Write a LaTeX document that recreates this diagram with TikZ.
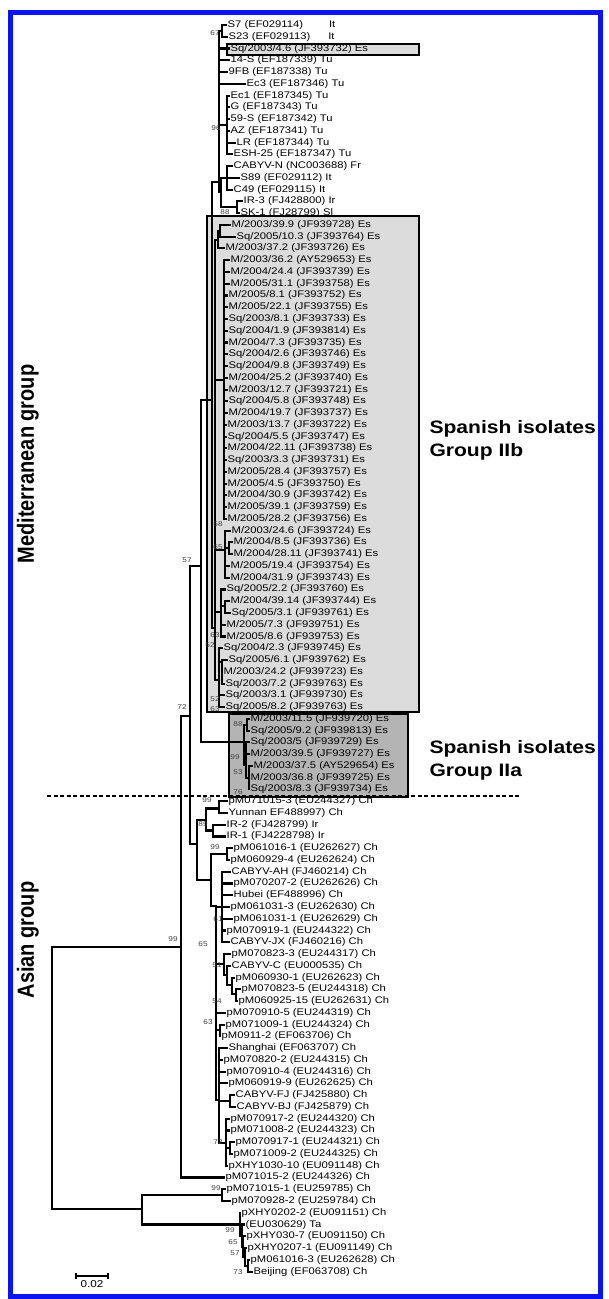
\documentclass[tikz,border=0pt]{standalone}
\usepackage{fontspec}
\usepackage{graphicx}
\setmainfont{Liberation Sans}[FakeStretch=1.17]
\newfontfamily\plainsans{Liberation Sans}
\usetikzlibrary{positioning}
\definecolor{frameBlue}{HTML}{0A14F0}
\definecolor{isoLight}{HTML}{DCDCDC}
\definecolor{isoDark}{HTML}{B4B4B4}
\tikzset{
  leaf/.style={anchor=west,inner xsep=1.5pt,inner ysep=0pt,
               font=\fontsize{9.6}{10}\selectfont},
  branch/.style={line width=2.1pt,line cap=rect},
  boot/.style={font=\fontsize{7}{8}\selectfont,inner sep=0pt,text=black!75},
  isobox/.style={draw=black,line width=1.8pt},
  grplabel/.style={font=\fontsize{18}{23}\selectfont\bfseries,align=left,
                   anchor=west},
  sidelabel/.style={font=\plainsans\fontsize{20}{22}\selectfont\bfseries,
                    rotate=90,inner sep=0pt},
  sepline/.style={line width=2pt,dash pattern=on 4pt off 2.5pt}
}

\begin{document}
\begin{tikzpicture}[x=1pt,y=-1pt]
  \useasboundingbox (0,0) rectangle (609,1299);
  \draw[frameBlue,line width=5pt] (10,12.5) rectangle (600,1296.5);

  % shaded groups
  \draw[isobox,fill=isoLight] (207,216) rectangle (419,712);
  \draw[isobox,fill=isoDark] (229,714) rectangle (408,797);
  \draw[isobox,fill=isoLight] (227,44) rectangle (419,55);

  % taxa
  \foreach \i/\tx/\lab in {
    1/226/{S7 (EF029114)\hspace{26pt}It},
    2/227/{S23 (EF029113)\hspace{18pt}It},
    3/229/{Sq/2003/4.6 (JF393732) Es},
    4/229/{14-S (EF187339) Tu},
    5/227/{9FB (EF187338) Tu},
    6/245/{Ec3 (EF187346) Tu},
    7/229/{Ec1 (EF187345) Tu},
    8/229/{G (EF187343) Tu},
    9/229/{59-S (EF187342) Tu},
    10/229/{AZ (EF187341) Tu},
    11/235/{LR (EF187344) Tu},
    12/232/{ESH-25 (EF187347) Tu},
    13/232/{CABYV-N (NC003688) Fr},
    14/239/{S89 (EF029112) It},
    15/232/{C49 (EF029115) It},
    16/242/{IR-3 (FJ428800) Ir},
    17/239/{SK-1 (FJ28799) Sl},
    18/230/{M/2003/39.9 (JF939728) Es},
    19/235/{Sq/2005/10.3 (JF393764) Es},
    20/224/{M/2003/37.2 (JF393726) Es},
    21/229/{M/2003/36.2 (AY529653) Es},
    22/229/{M/2004/24.4 (JF393739) Es},
    23/229/{M/2005/31.1 (JF393758) Es},
    24/227/{M/2005/8.1 (JF393752) Es},
    25/227/{M/2005/22.1 (JF393755) Es},
    26/227/{Sq/2003/8.1 (JF393733) Es},
    27/227/{Sq/2004/1.9 (JF393814) Es},
    28/227/{M/2004/7.3 (JF393735) Es},
    29/227/{Sq/2004/2.6 (JF393746) Es},
    30/227/{Sq/2004/9.8 (JF393749) Es},
    31/227/{M/2004/25.2 (JF393740) Es},
    32/227/{M/2003/12.7 (JF393721) Es},
    33/227/{Sq/2004/5.8 (JF393748) Es},
    34/227/{M/2004/19.7 (JF393737) Es},
    35/226/{M/2003/13.7 (JF393722) Es},
    36/226/{Sq/2004/5.5 (JF393747) Es},
    37/226/{M/2004/22.11 (JF393738) Es},
    38/226/{Sq/2003/3.3 (JF393731) Es},
    39/226/{M/2005/28.4 (JF393757) Es},
    40/226/{M/2005/4.5 (JF393750) Es},
    41/226/{M/2004/30.9 (JF393742) Es},
    42/226/{M/2005/39.1 (JF393759) Es},
    43/226/{M/2005/28.2 (JF393756) Es},
    44/230/{M/2003/24.6 (JF393724) Es},
    45/232/{M/2004/8.5 (JF393736) Es},
    46/232/{M/2004/28.11 (JF393741) Es},
    47/229/{M/2005/19.4 (JF393754) Es},
    48/229/{M/2004/31.9 (JF393743) Es},
    49/225/{Sq/2005/2.2 (JF393760) Es},
    50/229/{M/2004/39.14 (JF393744) Es},
    51/230/{Sq/2005/3.1 (JF939761) Es},
    52/225/{M/2005/7.3 (JF939751) Es},
    53/225/{M/2005/8.6 (JF939753) Es},
    54/222/{Sq/2004/2.3 (JF939745) Es},
    55/227/{Sq/2005/6.1 (JF939762) Es},
    56/222/{M/2003/24.2 (JF939723) Es},
    57/224/{Sq/2003/7.2 (JF939763) Es},
    58/224/{Sq/2003/3.1 (JF939730) Es},
    59/224/{Sq/2005/8.2 (JF939763) Es},
    60/249/{M/2003/11.5 (JF939720) Es},
    61/249/{Sq/2005/9.2 (JF939813) Es},
    62/249/{Sq/2003/5 (JF939729) Es},
    63/249/{M/2003/39.5 (JF939727) Es},
    64/252/{M/2003/37.5 (AY529654) Es},
    65/249/{M/2003/36.8 (JF939725) Es},
    66/249/{Sq/2003/8.3 (JF939734) Es},
    67/227/{pM071015-3 (EU244327) Ch},
    68/227/{Yunnan EF488997) Ch},
    69/225/{IR-2 (FJ428799) Ir},
    70/225/{IR-1 (FJ4228798) Ir},
    71/232/{pM061016-1 (EU262627) Ch},
    72/229/{pM060929-4 (EU262624) Ch},
    73/230/{CABYV-AH (FJ460214) Ch},
    74/232/{pM070207-2 (EU262626) Ch},
    75/232/{Hubei (EF488996) Ch},
    76/229/{pM061031-3 (EU262630) Ch},
    77/232/{pM061031-1 (EU262629) Ch},
    78/225/{pM070919-1 (EU244322) Ch},
    79/229/{CABYV-JX (FJ460216) Ch},
    80/230/{pM070823-3 (EU244317) Ch},
    81/230/{CABYV-C (EU000535) Ch},
    82/234/{pM060930-1 (EU262623) Ch},
    83/240/{pM070823-5 (EU244318) Ch},
    84/237/{pM060925-15 (EU262631) Ch},
    85/225/{pM070910-5 (EU244319) Ch},
    86/224/{pM071009-1 (EU244324) Ch},
    87/220/{pM0911-2 (EF063706) Ch},
    88/227/{Shanghai (EF063707) Ch},
    89/222/{pM070820-2 (EU244315) Ch},
    90/225/{pM070910-4 (EU244316) Ch},
    91/227/{pM060919-9 (EU262625) Ch},
    92/234/{CABYV-FJ (FJ425880) Ch},
    93/235/{CABYV-BJ (FJ425879) Ch},
    94/229/{pM070917-2 (EU244320) Ch},
    95/229/{pM071008-2 (EU244323) Ch},
    96/234/{pM070917-1 (EU244321) Ch},
    97/232/{pM071009-2 (EU244325) Ch},
    98/227/{pXHY1030-10 (EU091148) Ch},
    99/224/{pM071015-2 (EU244326) Ch},
    100/225/{pM071015-1 (EU259785) Ch},
    101/230/{pM070928-2 (EU259784) Ch},
    102/240/{pXHY0202-2 (EU091151) Ch},
    103/244/{(EU030629) Ta},
    104/245/{pXHY030-7 (EU091150) Ch},
    105/246/{pXHY0207-1 (EU091149) Ch},
    106/249/{pM061016-3 (EU262628) Ch},
    107/252/{Beijing (EF063708) Ch}}
    \node[leaf] (l\i) at (\tx,{13.24+11.76*\i}) {\lab};

  % internal nodes
  \coordinate (root) at (52,1078);
  \coordinate (nX) at (181,947);
  \coordinate (nD) at (142,1209);
  \coordinate (n72) at (190,716);
  \coordinate (n57) at (201,566);
  \coordinate (nAs) at (197,844);
  \coordinate (nMed) at (212,400);
  \coordinate (nIIa) at (244,742);
  \coordinate (nTop) at (219,182);
  \coordinate (nT1) at (222,31);
  \coordinate (nT2) at (219,78);
  \coordinate (nTu) at (227,125);
  \coordinate (nFr) at (227,178);
  \coordinate (nIR3) at (237,207);
  \coordinate (nT4) at (221,192);
  \coordinate (nIIb) at (215,628);
  \coordinate (nB1) at (220,231);
  \coordinate (nB2) at (218,240);
  \coordinate (nB3) at (224,380);
  \coordinate (nB4) at (225,550);
  \coordinate (nB4a) at (229,548);
  \coordinate (nB5) at (221,612);
  \coordinate (nB5a) at (225,606);
  \coordinate (nB6) at (219,680);
  \coordinate (nB6a) at (222,662);
  \coordinate (nIIa1) at (247,725);
  \coordinate (nIIa2) at (246,765);
  \coordinate (nIIa3) at (249,778);
  \coordinate (nYun) at (219,808.5);
  \coordinate (nIR) at (213,830.5);
  \coordinate (nA1) at (206,820);
  \coordinate (nA2) at (211,880);
  \coordinate (n99b) at (227,854);
  \coordinate (nA3) at (216,906);
  \coordinate (nAH) at (222,907);
  \coordinate (nC2) at (224,964);
  \coordinate (nC3) at (227,975);
  \coordinate (nC4) at (232,985);
  \coordinate (nC5) at (236,994);
  \coordinate (nD1) at (220,1030);
  \coordinate (nF) at (219,1100);
  \coordinate (nF1) at (230,1101);
  \coordinate (nF2) at (226,1143);
  \coordinate (nF3) at (230,1148);
  \coordinate (nP) at (222,1195);
  \coordinate (nQ1) at (240,1224.5);
  \coordinate (nQ2) at (242,1236);
  \coordinate (nQ3) at (243,1247);
  \coordinate (nQ4) at (245,1257);
  \coordinate (nQ5) at (248,1266);

  % branches
  \foreach \p/\c in {root/nX,root/nD,nX/n72,nX/l99.west,n72/n57,n72/nAs,
      n57/nMed,n57/nIIa,nMed/nTop,nMed/nIIb,
      nTop/nT2,nTop/nT4,nT1/l1.west,nT1/l2.west,
      nT2/nT1,nT2/l3.west,nT2/l4.west,nT2/l5.west,nT2/l6.west,nT2/nTu,
      nTu/l7.west,nTu/l8.west,nTu/l9.west,nTu/l10.west,nTu/l11.west,
      nTu/l12.west,nT4/nFr,nT4/nIR3,nFr/l13.west,nFr/l14.west,nFr/l15.west,
      nIR3/l16.west,nIR3/l17.west,
      nIIb/nB2,nIIb/nB3,nIIb/nB4,nIIb/nB5,nIIb/nB6,
      nB2/nB1,nB2/l20.west,nB1/l18.west,nB1/l19.west,
      nB4/l44.west,nB4/nB4a,nB4/l47.west,nB4/l48.west,
      nB4a/l45.west,nB4a/l46.west,
      nB5/l49.west,nB5/nB5a,nB5/l52.west,nB5/l53.west,
      nB5a/l50.west,nB5a/l51.west,
      nB6/l54.west,nB6/nB6a,nB6/l58.west,nB6/l59.west,
      nB6a/l55.west,nB6a/l56.west,nB6a/l57.west,
      nIIa/nIIa1,nIIa/nIIa2,nIIa1/l60.west,nIIa1/l61.west,
      nIIa2/l62.west,nIIa2/l63.west,nIIa2/nIIa3,
      nIIa3/l64.west,nIIa3/l65.west,nIIa3/l66.west,
      nAs/nA1,nAs/nA2,nA1/nYun,nA1/nIR,nYun/l67.west,nYun/l68.west,
      nIR/l69.west,nIR/l70.west,nA2/n99b,nA2/nA3,
      n99b/l71.west,n99b/l72.west,
      nA3/nAH,nA3/nC2,nA3/l85.west,nA3/nD1,nA3/nF,
      nC2/l80.west,nC2/nC3,nC3/l81.west,nC3/nC4,nC4/l82.west,nC4/nC5,
      nC5/l83.west,nC5/l84.west,nD1/l86.west,nD1/l87.west,
      nF/l88.west,nF/l89.west,nF/l90.west,nF/l91.west,nF/nF1,nF/nF2,
      nF1/l92.west,nF1/l93.west,nF2/l94.west,nF2/l95.west,nF2/nF3,
      nF2/l98.west,nF3/l96.west,nF3/l97.west,
      nD/nP,nD/nQ1,nP/l100.west,nP/l101.west,
      nQ1/l102.west,nQ1/nQ2,nQ2/l103.west,nQ2/nQ3,nQ3/l104.west,nQ3/nQ4,
      nQ4/l105.west,nQ4/nQ5,nQ5/l106.west,nQ5/l107.west}
    \draw[branch] (\p) |- (\c);
  \foreach \c in {21,...,43}
    \draw[branch] (nB3) |- (l\c.west);
  \foreach \c in {73,...,79}
    \draw[branch] (nAH) |- (l\c.west);

  % bootstrap values
  \foreach \bx/\by/\bv [count=\k] in {215/33/67,216/128/96,225/212/88,
      218/524/58,218/547/65,187/560/57,215/635/63,210/645/52,
      215/699/52,215/709/63,182/707/72,238/724/88,235/757/99,
      238/772/53,238/792/76,207/800/99,203/824/89,215/847/99,
      218/919/61,203/944/65,173/939/99,217/965/51,217/1001/54,
      208/1022/63,218/1142/72,216/1188/99,230/1230/99,233/1242/65,
      235/1253/57,238/1272/73}
    \node[boot] (bs\k) at (\bx,\by) {\bv};

  % separator and group names
  \coordinate (sepL) at (47,796);
  \coordinate (sepR) at (520,796);
  \draw[sepline] (sepL) -- (sepR);
  \node[grplabel] (labIIb) at (426,440) {Spanish isolates\\Group IIb};
  \node[grplabel] (labIIa) at (426,760) {Spanish isolates\\Group IIa};
  \node[sidelabel] (labMed) at (28,464)
    {\scalebox{1}[1.17]{Mediterranean group}};
  \node[sidelabel] (labAsia) at (28,940)
    {\scalebox{1}[1.17]{Asian group}};

  % scale bar
  \coordinate (sbL) at (76,1276);
  \coordinate (sbR) at (108,1276);
  \coordinate (sbM) at (92,1276);
  \draw[line width=1.5pt] (sbL) -- (sbR);
  \draw[line width=1.2pt] ([yshift=-3pt]sbL) -- ([yshift=3pt]sbL);
  \draw[line width=1.2pt] ([yshift=-3pt]sbR) -- ([yshift=3pt]sbR);
  \node[font=\fontsize{10}{11}\selectfont,inner sep=1pt,below=3pt of sbM]
    (sbLab) {0.02};
\end{tikzpicture}
\end{document}
